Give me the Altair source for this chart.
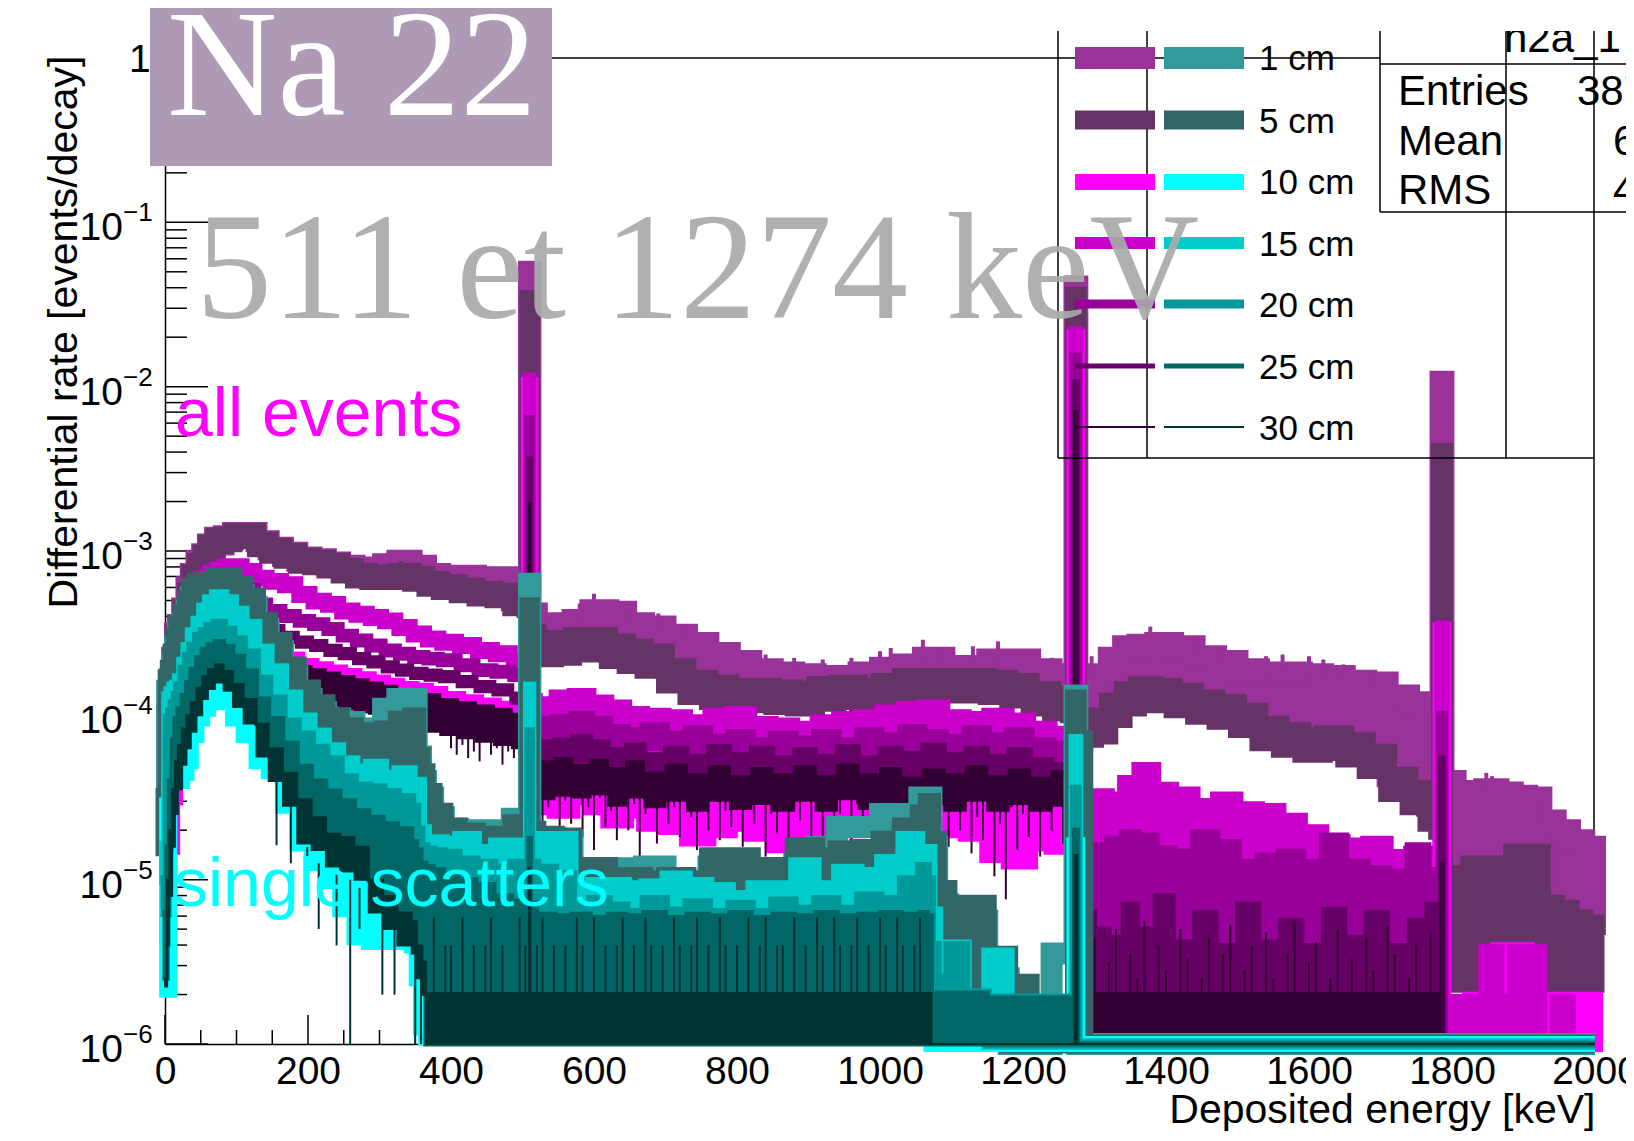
import altair as alt
import pandas as pd

# bin edges (keV) shared by the "all events" histograms
KEV_ALL = [0,3,6,10,14,18,24,30,36,44,
 52,60,70,82,95,110,128,145,165,185,
 205,225,245,265,285,305,325,345,365,385,
 410,435,460,485,505,509,511,520,545,570,
 595,620,645,670,700,730,760,790,820,850,
 880,910,940,970,1000,1030,1060,1090,1120,1150,
 1180,1210,1240,1265,1272,1276,1285,1300,1320,1340,
 1360,1385,1410,1440,1470,1500,1530,1560,1590,1620,
 1650,1680,1710,1740,1765,1780,1784,1788,1805,1825,
 1845,1865,1885,1905,1925,1945,1965,1985,2000]

# values are -100*log10(rate)
A1 = [450,400,385,365,352,345,335,322,314,306,
 304,298,296,293,292,291,294,299,303,306,
 307,308,309,310,311,308,306,309,314,315,
 315,316,316,320,321,130,338,345,344,342,
 336,337,344,346,351,356,362,367,372,374,
 375,376,377,374,371,369,365,371,370,366,
 366,372,375,375,139,381,381,375,365,358,
 357,356,358,364,367,372,375,374,375,376,
 379,380,388,392,395,396,197,440,450,446,
 445,447,449,450,464,470,476,480,506]
A1_BUMP_X = [580,600,650,690,720,840,880,920,960,1000,1015,1060,1085,1130,1165,1240,
 1296,1378,1436,1478,1540,1563,1600,1620,1648,1690,1716,1848,1856,1925,1960]
A1_BUMP_HI = [332,326,335,338,345,363,365,366,365,361,359,354,360,358,355,365,
 364,346,353,360,364,363,364,366,369,374,379,435,437,455,467]
A5_BUMP_X = [170,230,275,330,345,395,440,470]
A5_BUMP_HI = [293,300,306,306,308,313,316,318]
A5_TOP = [450,415,395,365,350,345,335,325,314,307,
 302,296,292,291,289,289,294,298,301,304,
 305,307,310,313,314,314,313,315,318,320,
 322,324,325,330,331,147,350,355,354,352,
 352,356,359,362,371,378,381,383,383,384,
 385,382,381,383,380,377,377,377,377,378,
 380,385,388,389,145,404,403,401,392,385,
 382,383,386,390,393,398,406,410,413,412,
 416,423,437,445,455,460,240,497,497,491,
 491,495,484,484,515,518,524,527,527]
A5_BOT = [450,415,395,365,352,348,338,328,318,311,
 306,300,296,295,293,293,298,302,305,308,
 309,311,314,317,318,318,317,319,322,324,
 326,328,329,334,335,147,360,365,364,362,
 362,366,369,372,381,388,391,393,393,394,
 395,392,391,393,390,387,387,387,387,388,
 390,395,398,399,145,415,414,412,402,395,
 392,393,396,400,403,408,416,420,423,422,
 426,433,447,455,465,470,240,563,563,563,
 563,563,563,563,563,563,563,563,563]
A10_TOP = [540,510,480,450,430,415,398,382,370,362,
 356,352,349,347,347,350,356,361,366,370,
 372,374,376,378,380,382,384,385,387,390,
 392,394,396,399,401,199,428,428,426,430,
 427,432,428,435,430,436,431,437,432,436,
 431,437,430,436,432,438,433,436,431,437,
 433,438,434,440,170,590,590,590,590,590,
 590,590,590,590,590,590,590,590,590,590,
 590,590,590,590,590,590,348,600,600,573,
 573,543,543,573,573,573,573,573,600]
A10_BOT = [540,510,480,450,430,415,398,382,370,362,
 358,355,352,350,352,353,357,360,366,373,
 385,390,392,394,394,392,388,385,387,394,
 396,398,400,402,402,199,455,456,458,450,
 456,464,458,466,468,475,470,466,472,479,
 473,475,470,468,466,466,468,470,472,485,
 489,478,480,470,170,600,600,600,600,600,
 600,600,600,600,600,600,600,600,600,600,
 600,600,600,600,600,600,348,600,600,600,
 600,600,600,600,600,600,600,600,600]
A15_TOP = [470,450,430,405,385,370,352,338,328,319,
 315,312,310,308,308,311,315,317,319,325,
 329,331,335,337,339,341,345,349,352,354,
 356,359,361,366,366,195,390,392,388,387,
 391,394,398,399,400,403,399,398,404,405,
 407,403,401,400,397,395,394,400,401,399,
 402,407,410,414,167,450,450,448,450,440,
 432,444,447,454,450,456,457,463,470,476,
 478,477,485,483,500,503,346,573,573,573,
 543,573,543,543,600,573,600,600,600]
A15_BOT = [470,450,430,405,385,370,352,340,330,322,
 318,315,313,311,311,314,318,320,322,328,
 332,334,338,340,342,344,348,352,355,357,
 359,362,364,369,369,195,415,417,413,412,
 416,419,423,424,425,428,424,423,429,430,
 432,428,426,425,422,420,419,425,426,424,
 427,432,435,439,167,590,590,590,590,590,
 590,590,590,590,590,590,590,590,590,590,
 590,590,590,590,590,590,346,590,590,590,
 590,590,590,590,600,590,600,600,600]
A20_TOP = [500,480,450,420,400,385,368,352,342,335,
 330,326,322,320,319,322,331,335,338,341,
 343,346,350,353,356,359,361,363,364,365,
 368,371,372,374,375,220,401,403,402,400,
 403,408,410,407,412,409,414,411,416,412,
 415,411,416,410,413,408,411,414,409,413,
 410,416,418,420,182,490,490,480,476,472,
 474,482,484,472,478,490,486,484,490,474,
 490,494,496,480,495,500,400,600,600,600,
 600,600,600,600,600,600,600,600,600]
A20_BOT = [500,480,450,420,400,385,368,354,344,337,
 332,328,324,322,321,325,334,338,341,344,
 346,349,353,356,359,362,364,366,367,368,
 371,374,375,377,378,220,413,415,414,412,
 415,420,422,419,424,421,426,423,428,424,
 427,423,428,422,425,420,423,426,421,425,
 422,428,430,432,182,590,590,590,590,590,
 590,590,590,590,590,590,590,590,590,590,
 590,590,590,590,590,590,400,600,600,600,
 600,600,600,600,600,600,600,600,600]
A25_TOP = [520,495,465,435,415,400,382,366,355,347,
 342,338,334,332,332,334,341,346,350,353,
 355,358,360,363,365,368,370,372,373,374,
 377,380,382,387,388,244,416,416,415,413,
 416,421,418,424,420,425,419,424,420,426,
 421,425,419,426,420,423,418,424,420,425,
 421,427,430,432,197,540,520,530,535,515,
 530,510,538,520,540,515,538,525,540,518,
 535,520,540,525,515,540,426,600,600,600,
 600,600,600,600,600,600,600,600,600]
A25_BOT = [520,495,465,435,415,400,382,368,357,349,
 345,341,337,335,335,337,345,350,355,358,
 360,363,365,368,370,373,375,377,378,379,
 382,385,387,392,393,244,431,431,430,428,
 431,436,433,439,435,440,434,439,435,441,
 436,440,434,441,435,438,433,439,435,440,
 436,442,445,447,197,590,590,590,590,590,
 590,590,590,590,590,590,590,590,590,590,
 590,590,590,590,590,590,426,600,600,600,
 600,600,600,600,600,600,600,600,600]
A30_TOP = [540,510,480,450,430,415,398,382,370,362,
 356,352,349,347,347,350,356,361,366,370,
 372,374,376,378,380,382,384,385,387,390,
 392,394,396,399,401,271,428,428,426,430,
 427,432,428,435,430,436,431,437,432,436,
 431,437,430,436,432,438,433,436,431,437,
 433,438,434,440,215,569,569,569,569,569,
 569,569,569,569,569,569,569,569,569,569,
 569,569,569,569,569,569,490,600,600,600,
 600,600,600,600,600,600,600,600,600]
A30_BOT = [540,515,490,460,440,425,408,392,380,372,
 366,362,359,357,357,360,366,371,381,390,
 392,394,396,398,399,402,405,407,410,412,
 414,416,418,420,420,271,451,451,449,450,
 448,455,450,456,452,458,452,457,454,458,
 452,458,451,457,453,459,454,458,452,458,
 454,458,455,460,215,600,600,600,600,600,
 600,600,600,600,600,600,600,600,600,600,
 600,600,600,600,600,600,490,600,600,600,
 600,600,600,600,600,600,600,600,600]
# thin downward spikes of the 30 cm histogram, 400-1270 keV every 8 keV
A30_BASE = [405,405,405,405,405,405,405,405,405,405,405,405,405] + [440] * 96
A30_TIPS = [420,424,418,426,422,428,416,424,420,430,
 422,426,428,480,458,450,472,456,446,484,
 452,466,448,474,456,482,450,468,458,476,
 448,470,454,486,460,452,478,450,466,456,
 474,448,462,482,454,470,450,476,458,468,
 448,480,456,466,452,486,460,472,450,478,
 456,464,448,474,458,484,452,470,460,450,
 478,454,466,448,482,458,472,452,476,456,
 488,462,450,474,456,468,452,480,458,470,
 450,484,462,476,454,498,466,512,456,482,
 460,474,452,486,458,470,450,478,456]
# taller 30 cm bins above the 1274 keV line, 1290-1780 keV every 10 keV
A30_HIGH = [560,535,569,550,530,569,545,560,525,569,
 540,555,569,530,548,569,560,535,569,545,
 528,569,555,540,569,532,560,569,545,525,
 569,550,538,569,560,530,569,548,569,535,
 555,569,528,545,569,560,540,569,532,550]

# bin edges (keV) shared by the "single scatters" histograms
KEV_SINGLE = [0,3,6,10,14,18,24,30,36,44,
 52,60,70,82,95,110,128,145,165,185,
 205,225,245,265,285,305,325,345,352,358,
 365,375,390,410,435,460,485,505,509,511,
 520,545,570,595,620,645,670,700,730,760,
 790,820,850,880,910,940,970,1000,1030,1055,
 1066,1072,1080,1095,1120,1150,1180,1210,1240,1265,
 1272,1276,1285,1400,1700,2000]
S1 = [455,385,378,368,358,350,345,336,328,325,
 324,324,322,322,327,334,349,361,376,390,
 398,402,404,408,409,396,390,390,425,440,
 450,462,469,470,470,472,463,463,320,475,
 474,476,495,495,500,493,492,508,506,492,
 500,503,505,490,480,468,468,460,460,450,
 450,480,515,525,525,560,600,600,545,545,
 388,600,600,600,600,600]
S5_TOP = [450,378,372,362,352,345,338,330,322,319,
 318,318,316,316,321,328,343,355,370,384,
 393,401,407,411,410,409,403,401,425,435,
 447,459,468,471,473,474,466,466,334,470,
 473,482,492,492,499,498,500,503,500,486,
 486,492,492,480,486,482,481,476,468,460,
 453,476,506,515,515,546,600,600,600,600,
 390,600,600,600,600,600]
S10_TOP = [450,500,440,430,425,418,408,400,392,383,
 376,372,369,373,381,390,405,420,435,451,
 462,472,474,480,500,510,520,525,540,550,
 575,575,575,575,575,575,575,575,560,575,
 575,575,575,575,575,575,575,575,575,575,
 575,575,575,575,575,575,575,575,575,575,
 575,575,575,590,590,600,600,600,600,600,
 479,600,600,600,600,600]
S10_BOT = [450,567,440,440,440,440,435,428,412,402,
 396,390,385,392,402,412,428,434,455,478,
 490,500,518,535,538,538,538,540,560,590,
 596,596,596,596,596,596,596,596,596,596,
 596,596,596,596,596,596,596,596,596,596,
 596,596,596,596,596,596,596,596,596,596,
 596,600,600,600,600,600,600,600,600,600,
 600,600,600,600,600,600]
S15_TOP = [480,389,386,383,382,378,368,359,350,343,
 335,330,327,330,337,345,360,372,388,402,
 411,420,428,433,430,437,434,441,441,470,
 476,476,477,474,482,478,478,478,383,478,
 474,474,505,502,502,504,503,498,502,505,
 510,504,504,490,504,494,496,488,474,482,
 482,520,540,545,590,545,600,600,600,600,
 415,600,600,600,600,600]
S20_TOP = [500,402,398,393,388,382,372,364,358,352,
 349,346,344,348,354,362,378,390,404,412,
 420,427,438,443,444,447,450,456,470,480,
 482,483,484,488,490,493,490,490,410,490,
 493,497,515,512,516,520,512,519,514,520,
 515,520,513,518,512,518,510,512,500,492,
 500,540,560,540,570,600,600,600,600,600,
 445,600,600,600,600,600]
S25_TOP = [520,480,440,415,402,396,388,380,372,365,
 360,357,355,358,364,373,390,402,417,431,
 440,446,452,458,462,466,469,477,482,490,
 492,494,497,500,503,510,513,513,475,514,
 521,522,521,523,521,522,520,523,521,522,
 520,523,521,522,520,522,521,520,521,520,
 522,570,569,569,569,572,572,572,572,572,
 470,600,600,600,600,600]
S30_TOP = [560,500,470,445,428,418,408,400,392,383,
 376,372,369,373,381,390,405,420,435,451,
 462,472,474,480,500,510,520,525,540,550,
 569,569,569,569,569,569,569,569,493,569,
 569,569,569,569,569,569,569,569,569,569,
 569,569,569,569,569,569,569,569,569,569,
 569,600,600,600,600,600,600,600,600,600,
 485,600,600,600,600,600]
S30_BOT = [565,540,510,480,460,445,430,420,410,400,
 390,384,380,385,395,405,425,440,455,478,
 482,492,495,500,520,530,540,545,560,570,
 600,600,600,600,600,600,600,600,600,600,
 600,600,600,600,600,600,600,600,600,600,
 600,600,600,600,600,600,600,600,600,600,
 600,600,600,600,600,600,600,600,600,600,
 600,600,600,600,600,600]
S5_BOT = S15_TOP[:61] + [530,563,563,563,563,563,600,600,600,600,415,600,600,600,600,600]
S15_BOT = S20_TOP
S20_BOT = S25_TOP
S25_BOT = S30_TOP[:30] + [600] * 46
# taller 30 cm bins, 360-1066 keV every 8 keV
S30_STRIPES = [540,569,523,569,540,540,569,523,569,540,
 569,540,523,569,540,569,569,523,540,569,
 540,523,569,540,569,540,569,523,540,569,
 523,569,540,569,540,523,569,540,569,523,
 540,569,540,569,523,540,569,540,523,569,
 540,569,523,540,569,540,569,523,569,540,
 523,569,540,540,569,523,569,540,569,523,
 540,569,523,540,569,540,523,569,540,569,
 523,540,569,523,540,569,540,523]
S30_DROP_X = [156,176,199,215,240,259,272,304,321,350,358]
S30_DROP_HI = [430,455,480,490,495,500,505,505,520,525,540]
S30_DROP_LO = [479,490,493,530,540,600,530,570,570,600,600]

DISTANCES = ["1 cm","5 cm","10 cm","15 cm","20 cm","25 cm","30 cm"]
ALL_COLORS = ["#993399","#663366","#FF00FF","#CC00CC","#990099","#660066","#330033"]
SINGLE_COLORS = ["#339999","#336666","#00FFFF","#00CCCC","#009999","#006666","#003333"]
LINE_WIDTHS = [22,19,16,12,9,5,2]

OX, OY = 165, 58
W, H = 1430, 986
SANS = "Liberation Sans"
SERIF = "Liberation Serif"

def rate(v):
    return 10 ** (-v / 100)

x_major = list(range(0, 2001, 200))
x_minor = [v for v in range(0, 2001, 50) if v % 200]
exps = [1, 2, 3, 4, 5, 6]
y_major = [1.0] + [10.0 ** -e for e in exps]
y_minor = [m * 10.0 ** -e for e in exps for m in range(2, 10)]

X_SCALE = alt.Scale(domain=[0, 2000], nice=False)
Y_SCALE = alt.Scale(type="log", domain=[1e-6, 1], nice=False)
X_AXIS = alt.Axis(
    title="Deposited energy [keV]", titleFont=SANS, titleFontSize=41, titleFontWeight="normal",
    titleColor="black", titleX=W, titleY=78, titleAlign="right", titleBaseline="alphabetic",
    titleAnchor="end", values=x_major, format="d", ticks=False, labelFont=SANS, labelFontSize=39,
    labelColor="black", labelPadding=39, labelBaseline="alphabetic", labelOverlap=False,
    labelFlush=False, domainColor="black", domainWidth=1.5, grid=False)
Y_AXIS = alt.Axis(
    title="Differential rate [events/decay]", titleFont=SANS, titleFontSize=41,
    titleFontWeight="normal", titleColor="black", titleX=-89, titleY=-3, titleAngle=270,
    titleAlign="right", titleBaseline="alphabetic", labels=False, ticks=False,
    domainColor="black", domainWidth=1.5, grid=False, values=y_major)
X = alt.X("kev:Q", scale=X_SCALE, axis=X_AXIS)
Y = alt.Y("top:Q", scale=Y_SCALE, axis=Y_AXIS)
ONE = alt.Data(values=[{"a": 0}])

def band(kev, top, bot, color, w):
    rows = [(k, rate(t), rate(b)) for k, t, b in zip(kev, top, bot)]
    df = pd.DataFrame(rows, columns=["kev", "top", "bot"])
    return alt.Chart(df).mark_area(
        interpolate="step-after", orient="vertical", fill=color, stroke=color,
        strokeWidth=w, strokeJoin="miter", opacity=1
    ).encode(x=X, y=Y, y2=alt.Y2("bot"))

def bars(kev, hi, lo, color, w=2):
    rows = [(k, rate(h), rate(l)) for k, h, l in zip(kev, hi, lo)]
    df = pd.DataFrame(rows, columns=["kev", "top", "bot"])
    return alt.Chart(df).mark_rule(color=color, strokeWidth=w).encode(x=X, y=Y, y2=alt.Y2("bot"))

def line(x1, y1, x2, y2, color="black", w=1.5):
    return alt.Chart(ONE).mark_rule(color=color, strokeWidth=w).encode(
        x=alt.value(x1 - OX), x2=alt.value(x2 - OX), y=alt.value(y1 - OY), y2=alt.value(y2 - OY))

def box(x1, y1, x2, y2, color):
    return alt.Chart(ONE).mark_rect(color=color).encode(
        x=alt.value(x1 - OX), x2=alt.value(x2 - OX), y=alt.value(y1 - OY), y2=alt.value(y2 - OY))

def label(text, x, y, size, color="black", font=SANS, opacity=1):
    return alt.Chart(ONE).mark_text(
        text=text, font=font, fontSize=size, color=color, align="left",
        baseline="alphabetic", opacity=opacity
    ).encode(x=alt.value(x - OX), y=alt.value(y - OY))

# ---- axes and ticks
x_major_layer = alt.Chart(pd.DataFrame({"kev": x_major})).mark_rule(color="black", strokeWidth=1.5).encode(
    x=X, y=alt.value(H), y2=alt.value(H - 29))
y_major_layer = alt.Chart(pd.DataFrame({"top": y_major})).mark_rule(color="black", strokeWidth=1.5).encode(
    y=Y, x=alt.value(0), x2=alt.value(43))
x_minor_layer = alt.Chart(pd.DataFrame({"kev": x_minor})).mark_rule(color="black", strokeWidth=1.5).encode(
    x=X, y=alt.value(H), y2=alt.value(H - 14))
y_minor_layer = alt.Chart(pd.DataFrame({"top": y_minor})).mark_rule(color="black", strokeWidth=1.5).encode(
    y=Y, x=alt.value(0), x2=alt.value(22))

tens = pd.DataFrame({"top": [10.0 ** -e for e in exps], "t": ["10"] * 6,
                     "e": ["\u2212" + str(e) for e in exps]})
ten_layer = alt.Chart(tens).mark_text(font=SANS, fontSize=39, color="black", align="right",
                                      baseline="middle", dy=6).encode(
    x=alt.value(-42), y=Y, text="t:N")
exp_layer = alt.Chart(tens).mark_text(font=SANS, fontSize=26, color="black", align="left",
                                      baseline="middle", dy=-9).encode(
    x=alt.value(-42), y=Y, text="e:N")
one_layer = label("1", 129, 72, 39)

frame = [line(552, OY, 1380, OY), line(1594, 31, 1594, 1044)]

all_tops = [A1, A5_TOP, A10_TOP, A15_TOP, A20_TOP, A25_TOP, A30_TOP]
all_bots = [A5_TOP, A5_BOT, A10_BOT, A15_BOT, A20_BOT, A25_BOT, A30_BOT]
single_tops = [S1, S5_TOP, S10_TOP, S15_TOP, S20_TOP, S25_TOP, S30_TOP]
single_bots = [S1, S5_BOT, S10_BOT, S15_BOT, S20_BOT, S25_BOT, S30_BOT]

hist = [band(KEV_ALL, t, b, c, w) for t, b, c, w in zip(all_tops, all_bots, ALL_COLORS, LINE_WIDTHS)]
hist.insert(1, bars(A1_BUMP_X, A1_BUMP_HI, [v + 10 for v in A1_BUMP_HI], ALL_COLORS[0], 4))
hist.insert(3, bars(A5_BUMP_X, A5_BUMP_HI, [v + 8 for v in A5_BUMP_HI], ALL_COLORS[1], 4))
hist.append(bars(list(range(400, 1270, 8)), A30_BASE, A30_TIPS, ALL_COLORS[6]))
hist.append(bars(list(range(1290, 1780, 10)), A30_HIGH, [569] * 50, ALL_COLORS[6]))
hist += [band(KEV_SINGLE, t, b, c, w) for t, b, c, w in zip(single_tops, single_bots, SINGLE_COLORS, LINE_WIDTHS)]
hist.append(bars(list(range(360, 1066, 8)), S30_STRIPES, [569] * 89, SINGLE_COLORS[6]))
hist.append(bars(S30_DROP_X, S30_DROP_HI, S30_DROP_LO, SINGLE_COLORS[6]))

# ---- legend and statistics box
chrome = [
    label("h2a_1", 1504, 52, 42),
    box(1370, 0, 1634, 31, "white"),
    line(1058, 31, 1058, 458), line(1147, 31, 1147, 458), line(1506, 31, 1506, 458),
    line(1380, 31, 1380, 212), line(1058, 458, 1594, 458),
    line(1380, 64, 1634, 64), line(1380, 212, 1634, 212),
    label("Entries", 1398, 105, 42), label("Mean", 1398, 155, 42), label("RMS", 1398, 204, 42),
    label("387", 1577, 105, 42), label("6", 1613, 155, 42), label("4", 1613, 204, 42),
]
ROW_Y = [58, 120, 182, 243, 304, 366, 427]
TEXT_Y = [70, 133, 194, 256, 317, 379, 440]
for d, ca, cs, w, ry, ty in zip(DISTANCES, ALL_COLORS, SINGLE_COLORS, LINE_WIDTHS, ROW_Y, TEXT_Y):
    chrome += [line(1075, ry, 1155, ry, ca, w), line(1164, ry, 1244, ry, cs, w), label(d, 1259, ty, 35)]

text_layers = [
    box(150, 0, 552, 166, "#AE9AB4"),
    label("Na 22", 167, 115, 153, "white", SERIF),
    label("511 et 1274 keV", 196, 318, 152, "#A9ABAA", SERIF, 0.93),
    label("all events", 175, 436, 68, "#FF00FF"),
    label("single scatters", 174, 906, 68, "#00FFFF"),
]

chart = alt.layer(
    x_major_layer, y_major_layer, x_minor_layer, y_minor_layer, ten_layer, exp_layer, one_layer,
    *frame, *hist, *chrome, *text_layers
).properties(
    width=W, height=H,
    padding={"left": OX - 8, "top": OY - 8, "right": 1618 - (OX - 8) - W, "bottom": 1123 - (OY - 8) - H},
    autosize=alt.AutoSizeParams(type="none"),
    background="white",
).configure_view(stroke=None)

chart.save("out.html", embed_options={"renderer": "svg", "actions": False})
